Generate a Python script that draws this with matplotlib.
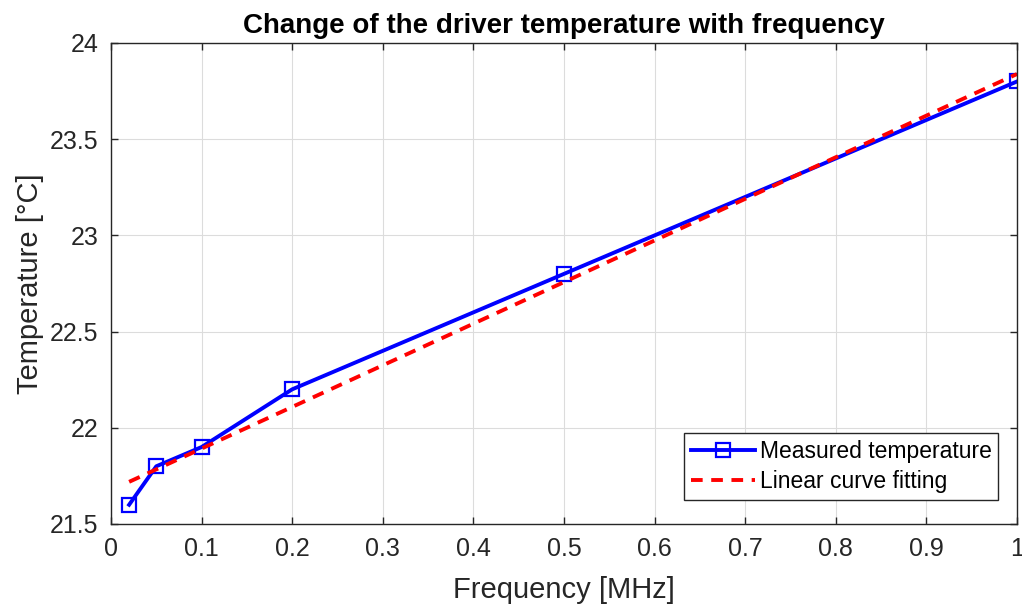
import numpy as np
import matplotlib.pyplot as plt

plt.rcParams['font.family'] = ['Liberation Sans', 'DejaVu Sans']

# Measured driver temperature vs switching frequency
freq = [0.02, 0.05, 0.1, 0.2, 0.5, 1.0]          # MHz
temp = [21.6, 21.8, 21.9, 22.2, 22.8, 23.8]      # degC

# Least-squares straight line through the measurements
slope, intercept = np.polyfit(freq, temp, 1)
fit_x = np.array([freq[0], freq[-1]])
fit_y = slope * fit_x + intercept

xticks = [0, 0.1, 0.2, 0.3, 0.4, 0.5, 0.6, 0.7, 0.8, 0.9, 1]
xticklabels = ['0', '0.1', '0.2', '0.3', '0.4', '0.5', '0.6', '0.7', '0.8', '0.9', '1']
yticks = [21.5, 22, 22.5, 23, 23.5, 24]
yticklabels = ['21.5', '22', '22.5', '23', '23.5', '24']

fig = plt.figure(figsize=(10.22, 6.08), dpi=100)
ax = fig.add_axes([111 / 1022, 1 - 524 / 608, 906 / 1022, 481 / 608])

ax.plot(freq, temp, '-s', color='#0000ff', lw=2.8, markersize=10,
        markerfacecolor='none', markeredgewidth=1.6, label='Measured temperature')
ax.plot(fit_x, fit_y, '--', color='#ff0000', lw=2.8, dashes=(3, 2.2),
        label='Linear curve fitting')

ax.set_xlim(0, 1)
ax.set_ylim(21.5, 24)
ax.set_xticks(xticks)
ax.set_xticklabels(xticklabels)
ax.set_yticks(yticks)
ax.set_yticklabels(yticklabels)
ax.tick_params(direction='in', top=True, right=True, length=5, width=1,
               labelsize=18, colors='#262626', pad=9)
for s in ax.spines.values():
    s.set_color('#262626')
    s.set_linewidth(1)
ax.grid(True, color='#dcdcdc', lw=0.8)

ax.set_title('Change of the driver temperature with frequency', fontsize=20,
             fontweight='bold', pad=7)
ax.set_xlabel('Frequency [MHz]', fontsize=21, color='#262626', labelpad=11)
ax.set_ylabel('Temperature [°C]', fontsize=21, color='#262626', labelpad=4)

leg = ax.legend(loc='lower right', fontsize=16.5, fancybox=False, framealpha=1,
                edgecolor='#262626', handlelength=2.8, handletextpad=0.2,
                borderpad=0.3, labelspacing=0.3, bbox_to_anchor=(0.992, 0.027))
leg.get_frame().set_linewidth(1)

fig.savefig('out.png', dpi=100)
